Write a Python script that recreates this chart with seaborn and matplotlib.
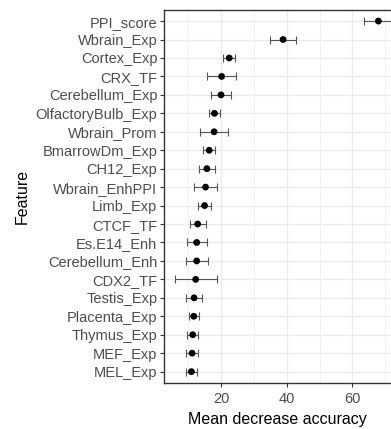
import numpy as np
import pandas as pd
import matplotlib
matplotlib.use("Agg")
import matplotlib.pyplot as plt
import seaborn as sns
from matplotlib.ticker import FixedLocator

features = ["PPI_score", "Wbrain_Exp", "Cortex_Exp", "CRX_TF", "Cerebellum_Exp",
            "OlfactoryBulb_Exp", "Wbrain_Prom", "BmarrowDm_Exp", "CH12_Exp",
            "Wbrain_EnhPPI", "Limb_Exp", "CTCF_TF", "Es.E14_Enh", "Cerebellum_Enh",
            "CDX2_TF", "Testis_Exp", "Placenta_Exp", "Thymus_Exp", "MEF_Exp", "MEL_Exp"]
mean_acc = [67.9, 38.9, 22.5, 20.2, 20.0, 18.0, 17.9, 16.4, 15.7, 15.3,
            15.0, 12.9, 12.6, 12.6, 12.3, 11.8, 11.7, 11.4, 11.2, 11.0]
err = [4.4, 4.0, 1.9, 4.4, 3.1, 1.8, 4.2, 1.85, 2.4, 3.4,
       1.9, 2.4, 3.0, 3.3, 6.4, 2.5, 1.5, 1.7, 1.8, 1.7]

sns.set_theme(style="white")
plt.rcParams["font.family"] = ["Liberation Sans", "DejaVu Sans"]

n = len(features)
df = pd.DataFrame({"Feature": features, "MDA": mean_acc, "err": err,
                   "pos": np.arange(n, 0, -1)})

fig = plt.figure(figsize=(3.91, 4.29), dpi=100)
ax = fig.add_axes([164.3 / 391, 1 - 382.7 / 429, 1 - 164.3 / 391, (382.7 - 10) / 429])

ax.errorbar(df["MDA"], df["pos"], xerr=df["err"], fmt="none", ecolor="#555555",
            elinewidth=0.8, capsize=2.6, capthick=0.8, zorder=2)
sns.scatterplot(data=df, x="MDA", y="pos", ax=ax, color="black", s=24,
                edgecolor="none", zorder=3, legend=False)

ax.set_xlim(2.74, 71.75)
ax.set_ylim(0.4, n + 0.6)
ax.set_yticks(df["pos"])
ax.set_yticklabels(features)
ax.xaxis.set_major_locator(FixedLocator([20, 40, 60]))
ax.xaxis.set_minor_locator(FixedLocator([10, 30, 50, 70]))

ax.grid(which="major", color="#EBEBEB", lw=1.0, zorder=0)
ax.grid(which="minor", axis="x", color="#EBEBEB", lw=0.5, zorder=0)
ax.set_axisbelow(True)

for s in ["top", "left", "bottom"]:
    ax.spines[s].set_visible(True)
    ax.spines[s].set_color("#333333")
    ax.spines[s].set_linewidth(1.0)
ax.spines["right"].set_visible(False)

ax.tick_params(axis="both", which="major", length=3, width=0.8, color="#333333",
               labelcolor="#4D4D4D", labelsize=10.5, pad=2, bottom=True, left=True)
ax.tick_params(axis="x", which="major", pad=4)
ax.tick_params(axis="both", which="minor", length=0)

ax.set_xlabel("Mean decrease accuracy", fontsize=11.5, color="black", labelpad=4)
ax.set_ylabel("Feature", fontsize=11.5, color="black", labelpad=4)

fig.savefig("out.png", dpi=100)
